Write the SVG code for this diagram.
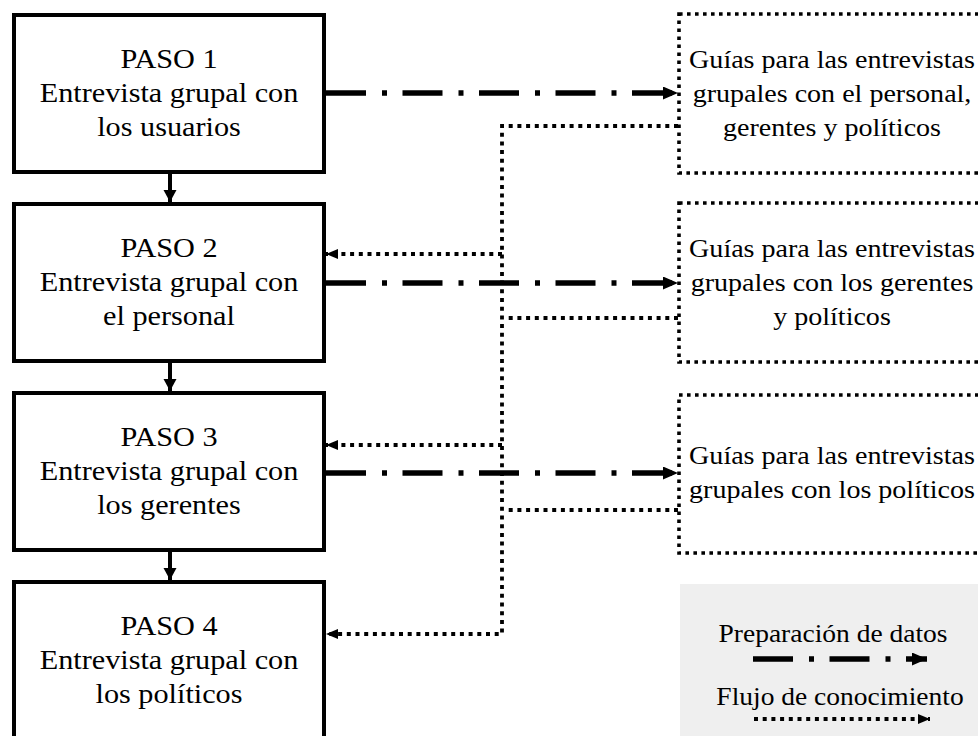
<svg xmlns="http://www.w3.org/2000/svg" width="978" height="736" viewBox="0 0 978 736">
<style>
text{font-family:"Liberation Serif","Times New Roman",serif;fill:#000;text-anchor:middle}
.step{fill:#fff;stroke:#000;stroke-width:4}
.guide{fill:#fff;stroke:#000;stroke-width:3.6;stroke-dasharray:3.6 4.4}
.t1{font-size:27.5px}
.t2{font-size:25.5px}
.t3{font-size:25px}
.prep{fill:none;stroke:#000;stroke-width:5.5;stroke-dasharray:40 16 5 15.5}
.know{fill:none;stroke:#000;stroke-width:3.8;stroke-dasharray:4 4.7}
.down{fill:none;stroke:#000;stroke-width:4}
</style>
<defs>
<marker id="ahPrep" markerUnits="userSpaceOnUse" markerWidth="16" markerHeight="14" refX="15" refY="6.5" orient="auto">
<path d="M0,0 L15,6.5 L0,13 z" fill="#000"/>
</marker>
<marker id="ahKnow" markerUnits="userSpaceOnUse" markerWidth="13" markerHeight="11" refX="12" refY="5" orient="auto">
<path d="M0,0 L12,5 L0,10 z" fill="#000"/>
</marker>
<marker id="ahDown" markerUnits="userSpaceOnUse" markerWidth="13" markerHeight="14" refX="12" refY="6.5" orient="auto">
<path d="M0,0 L12,6.5 L0,13 z" fill="#000"/>
</marker>
</defs>

<g id="legend">
<rect x="680" y="584" width="310" height="160" fill="#efefef"/>
<g transform="matrix(1.1 0 0 1 833 0)"><text class="t3" x="0" y="642">Preparación de datos</text></g>
<path class="prep" d="M753,659 H927" marker-end="url(#ahPrep)"/>
<g transform="matrix(1.1 0 0 1 840 0)"><text class="t3" x="0" y="705">Flujo de conocimiento</text></g>
<path class="know" d="M754,719 H930" marker-end="url(#ahKnow)"/>
</g>

<g id="step1">
<rect class="step" x="14" y="15" width="310" height="157"/>
<g transform="matrix(1.1 0 0 1 169 0)">
<text class="t1" x="0" y="68">PASO 1</text>
<text class="t1" x="0" y="102">Entrevista grupal con</text>
<text class="t1" x="0" y="136">los usuarios</text>
</g>
</g>
<g id="step2">
<rect class="step" x="14" y="204" width="310" height="157"/>
<g transform="matrix(1.1 0 0 1 169 0)">
<text class="t1" x="0" y="257">PASO 2</text>
<text class="t1" x="0" y="291">Entrevista grupal con</text>
<text class="t1" x="0" y="325">el personal</text>
</g>
</g>
<g id="step3">
<rect class="step" x="14" y="393" width="310" height="157"/>
<g transform="matrix(1.1 0 0 1 169 0)">
<text class="t1" x="0" y="446">PASO 3</text>
<text class="t1" x="0" y="480">Entrevista grupal con</text>
<text class="t1" x="0" y="514">los gerentes</text>
</g>
</g>
<g id="step4">
<rect class="step" x="14" y="582" width="310" height="160"/>
<g transform="matrix(1.1 0 0 1 169 0)">
<text class="t1" x="0" y="635">PASO 4</text>
<text class="t1" x="0" y="669">Entrevista grupal con</text>
<text class="t1" x="0" y="703">los políticos</text>
</g>
</g>

<g id="guide1">
<rect class="guide" x="679" y="14" width="310" height="159"/>
<g transform="matrix(1.1 0 0 1 832 0)">
<text class="t2" x="0" y="68">Guías para las entrevistas</text>
<text class="t2" x="0" y="102">grupales con el personal,</text>
<text class="t2" x="0" y="136">gerentes y políticos</text>
</g>
</g>
<g id="guide2">
<rect class="guide" x="679" y="203" width="310" height="159"/>
<g transform="matrix(1.1 0 0 1 832 0)">
<text class="t2" x="0" y="257">Guías para las entrevistas</text>
<text class="t2" x="0" y="291">grupales con los gerentes</text>
<text class="t2" x="0" y="325">y políticos</text>
</g>
</g>
<g id="guide3">
<rect class="guide" x="679" y="395" width="310" height="158"/>
<g transform="matrix(1.1 0 0 1 832 0)">
<text class="t2" x="0" y="464">Guías para las entrevistas</text>
<text class="t2" x="0" y="498">grupales con los políticos</text>
</g>
</g>

<g id="connectors">
<path class="down" d="M170,174 V202" marker-end="url(#ahDown)"/>
<path class="down" d="M170,363 V391" marker-end="url(#ahDown)"/>
<path class="down" d="M170,552 V580" marker-end="url(#ahDown)"/>

<path class="prep" d="M326,93 H678" marker-end="url(#ahPrep)"/>
<path class="prep" d="M326,283 H678" marker-end="url(#ahPrep)"/>
<path class="prep" d="M326,473 H678" marker-end="url(#ahPrep)"/>

<path class="know" d="M678,126 H502 V634 H326" marker-end="url(#ahKnow)"/>
<path class="know" d="M502,254 H326" marker-end="url(#ahKnow)"/>
<path class="know" d="M502,445 H326" marker-end="url(#ahKnow)"/>
<path class="know" d="M678,318 H504"/>
<path class="know" d="M678,510 H504"/>
</g>
</svg>
